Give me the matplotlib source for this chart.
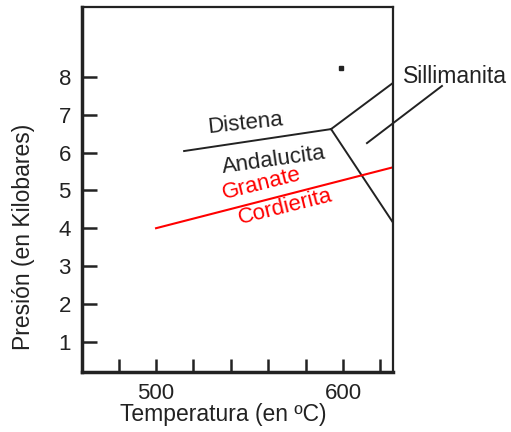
import matplotlib.pyplot as plt

plt.rcParams["font.family"] = ["Liberation Sans", "DejaVu Sans"]

# phase boundaries (T in ºC, P in kbar)
ky_and_T = [515, 593.6]
ky_and_P = [6.04, 6.62]
ky_sil_T = [593.6, 626.7]
ky_sil_P = [6.62, 7.84]
and_sil_T = [593.6, 626.7]
and_sil_P = [6.62, 4.15]
grt_crd_T = [500, 626.7]
grt_crd_P = [4.0, 5.61]
pointer_T = [612.8, 652.9]
pointer_P = [6.25, 7.76]
dot_T = [598.9]
dot_P = [8.24]

x_ticks = [480, 500, 520, 540, 560, 580, 600, 620]
x_labels = ["", "500", "", "", "", "", "600", ""]
y_ticks = [1, 2, 3, 4, 5, 6, 7, 8]

ink = "#222222"

fig = plt.figure(figsize=(5.11, 4.32), dpi=100)
ax = fig.add_axes([0.1605, 0.139, 0.6085, 0.845])

ax.plot(ky_and_T, ky_and_P, color=ink, lw=1.4)
ax.plot(ky_sil_T, ky_sil_P, color=ink, lw=1.4)
ax.plot(and_sil_T, and_sil_P, color=ink, lw=1.4)
ax.plot(grt_crd_T, grt_crd_P, color="#ff0000", lw=1.5)
ax.plot(pointer_T, pointer_P, color=ink, lw=1.4, clip_on=False)
ax.plot(dot_T, dot_P, "s", color=ink, ms=2.5)

ax.text(547.6, 6.76, "Distena", fontsize=16, color=ink, rotation=6,
        ha="center", va="center")
ax.text(563.1, 5.80, "Andalucita", fontsize=16, color=ink, rotation=8,
        ha="center", va="center")
ax.text(556.7, 5.16, "Granate", fontsize=16, color="#ff0000", rotation=14,
        ha="center", va="center")
ax.text(569.0, 4.55, "Cordierita", fontsize=16, color="#ff0000", rotation=14,
        ha="center", va="center")
ax.text(632.1, 8.0, "Sillimanita", fontsize=16.5, color=ink,
        ha="left", va="center", clip_on=False)

ax.set_xlim(460.4, 626.7)
ax.set_ylim(0.2, 9.85)
ax.set_xticks(x_ticks)
ax.set_xticklabels(x_labels)
ax.set_yticks(y_ticks)

ax.tick_params(axis="y", direction="in", length=11, width=1.8, pad=8,
               labelsize=16, colors=ink)
ax.tick_params(axis="x", direction="in", length=9.5, width=1.8, pad=8,
               labelsize=16, colors=ink)

for side in ["left", "bottom"]:
    ax.spines[side].set_linewidth(2.5)
for side in ["top", "right"]:
    ax.spines[side].set_linewidth(1.6)
for sp in ax.spines.values():
    sp.set_color(ink)

ax.set_xlabel("Temperatura (en ºC)", fontsize=16.5, color=ink)
ax.set_ylabel("Presión (en Kilobares)", fontsize=16.5, color=ink)
ax.xaxis.set_label_coords(0.453, -0.085)
ax.yaxis.set_label_coords(-0.15, 0.37)

fig.savefig("out.png", dpi=100)
